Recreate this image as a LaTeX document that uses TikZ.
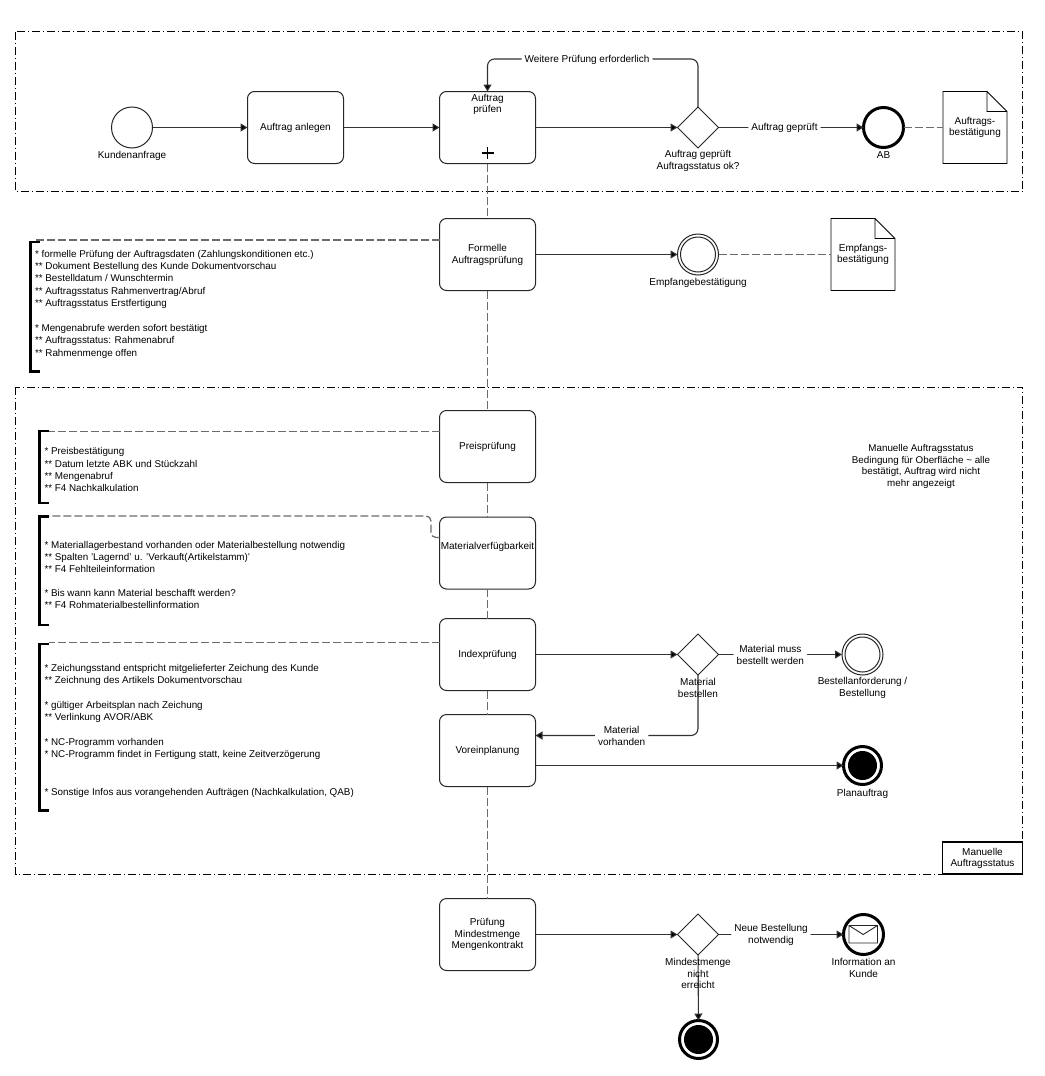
\documentclass[tikz,border=0pt]{standalone}
\usepackage{fontspec}
\setmainfont{Liberation Sans}
\usetikzlibrary{arrows.meta,shapes.geometric}
\tikzset{
  x=1pt,y=-1pt,
  every node/.style={font=\fontsize{10}{11.4}\selectfont,text=black,inner sep=0pt,outer sep=0pt},
  lane/.style={draw=black,line width=.9pt,dash pattern=on 8pt off 3pt on 1pt off 3pt},
  flow/.style={draw=black!80,line width=1.1pt,-{Triangle[length=7pt,width=8pt,fill=black]},rounded corners=7pt},
  assoc/.style={draw=black!58,line width=1.3pt,dash pattern=on 8pt off 3pt,rounded corners=5pt},
  taskbox/.style={draw=black!85,line width=1pt,rounded corners=7pt,minimum width=96pt,minimum height=72pt,fill=white,align=center},
  docbox/.style={minimum width=64pt,minimum height=72pt,align=center},
  docline/.style={draw=black,line width=.9pt,line join=miter},
  gate/.style={diamond,aspect=1,draw=black!85,line width=.9pt,minimum size=41pt,fill=white},
  evStart/.style={circle,draw=black!85,line width=1pt,minimum size=41pt,fill=white},
  evThick/.style={circle,draw=black,line width=3pt,minimum size=40pt,fill=white},
  lbl/.style={align=center},
  elabel/.style={align=center,fill=white,inner xsep=3pt,inner ysep=1pt},
  notetext/.style={align=left,anchor=north west,font=\fontsize{9.85}{12.4}\selectfont},
  brk/.style={draw=black,line width=2.5pt,line cap=butt,line join=miter},
}
\begin{document}
\begin{tikzpicture}
\useasboundingbox (0,0) rectangle (1044,1076);
% lanes
\draw[lane] (15.5,31.5) rectangle (1022.5,191.5);
\draw[lane] (15.5,387) rectangle (1022.5,874.5);
% tasks
\node[taskbox] (t3) at (487.5,127.5) {};
\node[taskbox] (fa) at (487.5,254.5) {\rule{0pt}{8pt}Formelle\\Auftragsprüfung};
\node[taskbox] (pp) at (487.5,446.5) {Preisprüfung};
\node[taskbox] (mv) at (487.5,553) {};
\node[taskbox] (ip) at (487.5,654.5) {Indexprüfung};
\node[taskbox] (vp) at (487.5,750.5) {Voreinplanung};
\node[taskbox] (pm) at (487.5,934.5) {Prüfung\\Mindestmenge\\Mengenkontrakt};
% vertical associations
\draw[assoc] (t3.south) -- (fa.north);
\draw[assoc] (fa.south) -- (pp.north);
\draw[assoc] (pp.south) -- (mv.north);
\draw[assoc] (mv.south) -- (ip.north);
\draw[assoc] (ip.south) -- (vp.north);
\draw[assoc] (vp.south) -- (pm.north);
\node[taskbox] (t2) at (295.5,127.5) {Auftrag anlegen};
\node[lbl] (t3a) at (487.5,104.5) {Auftrag\\prüfen};
\node[lbl] (mva) at (487.5,547) {Materialverfügbarkeit};
\draw[black,line width=1.1pt] (481.5,153) -- (493.5,153) (487.5,147) -- (487.5,159);
% events
\node[evStart] (s1) at (132,127.5) {};
\node[lbl] (s1l) at (132,155.5) {Kundenanfrage};
\node[gate] (g1) at (698,127.5) {};
\node[lbl] (g1l) at (698,161) {Auftrag geprüft\\Auftragsstatus ok?};
\node[evThick] (ab) at (883.5,127.5) {};
\node[lbl] (abl) at (883.5,155.5) {AB};
\node[docbox] (d1) at (975,127.5) {Auftrags-\\bestätigung};
\draw[docline] (d1.north west) -- ([xshift=-20pt]d1.north east) -- ([yshift=-20pt]d1.north east) -- (d1.south east) -- (d1.south west) -- cycle
 ([xshift=-20pt]d1.north east) -- ([xshift=-20pt,yshift=-20pt]d1.north east) -- ([yshift=-20pt]d1.north east);
\node[evStart] (e1) at (698,254.5) {};
\draw[black!85,line width=1pt] (e1.center) circle (17.5);
\node[lbl] (e1l) at (698,282.5) {Empfangebestätigung};
\node[docbox] (d2) at (863,254.5) {Empfangs-\\bestätigung};
\draw[docline] (d2.north west) -- ([xshift=-20pt]d2.north east) -- ([yshift=-20pt]d2.north east) -- (d2.south east) -- (d2.south west) -- cycle
 ([xshift=-20pt]d2.north east) -- ([xshift=-20pt,yshift=-20pt]d2.north east) -- ([yshift=-20pt]d2.north east);
\node[gate] (g2) at (698,654.5) {};
\node[evStart] (e2) at (862.5,654.5) {};
\draw[black!85,line width=1pt] (e2.center) circle (17.5);
\node[lbl] (e2l) at (862.5,688) {Bestellanforderung /\\Bestellung};
\node[evThick,minimum size=38pt] (e3) at (862.5,765.5) {};
\fill[black] (e3.center) circle (14.5);
\node[lbl] (e3l) at (862.5,794) {Planauftrag};
\node[gate] (g3) at (698,934.5) {};
\node[evThick] (e4) at (863.5,934.5) {};
\draw[black!85,line width=.9pt,line join=miter] (849,925.5) rectangle (877.5,943) (849,925.5) -- (863.2,934.5) -- (877.5,925.5);
\node[lbl] (e4l) at (863.5,968) {Information an\\Kunde};
\node[evThick,minimum size=38pt] (e5) at (698.5,1039.5) {};
\fill[black] (e5.center) circle (14.5);
% flows
\draw[flow] (s1) -- (t2);
\draw[flow] (t2) -- (t3);
\draw[flow] (t3) -- (g1);
\draw[flow] (g1) -- node[elabel,pos=.455] (l1) {Auftrag geprüft} (ab);
\coordinate (top) at (698,59);
\draw[flow] (g1.north) -- (top) -- node[elabel,pos=.527,yshift=-.6pt] (l2) {Weitere Prüfung erforderlich} (t3.north |- top) -- (t3.north);
\draw[flow] (fa.east |- e1) -- (e1);
\draw[flow] (ip) -- (g2);
\draw[flow] (g2) -- node[elabel,pos=.42,yshift=-.6pt] (l3) {Material muss\\bestellt werden} (e2);
\coordinate (c4) at (698,735.5);
\draw[flow] (g2.south) -- (c4) -- node[elabel,pos=.47,yshift=-.4pt] (l4) {Material\\vorhanden} (vp.east |- c4);
\node[lbl] (g2l) at (698,688) {Material\\bestellen};
\draw[flow] (vp.east |- e3) -- (e3);
\draw[flow] (pm.east |- g3) -- (g3);
\draw[flow] (g3) -- node[elabel,pos=.42,yshift=-.6pt] (l5) {Neue Bestellung\\notwendig} (e4);
\draw[flow] (g3) -- (e5);
\node[lbl] (g3l) at (698,973.5) {Mindestmenge\\nicht\\erreicht};
% associations to documents
\draw[assoc] (ab) -- (d1.west |- ab);
\draw[assoc] (e1) -- (d2.west |- e1);
% notes with brackets
\coordinate (b1) at (36,240);
\coordinate (b2) at (49,431.5);
\coordinate (b3) at (49,516);
\coordinate (b4) at (49,642.5);
\draw[brk] (39.5,242) -- (30.5,242) -- (30.5,371.5) -- (40,371.5);
\draw[brk] (49,431) -- (39.5,431) -- (39.5,503) -- (49,503);
\draw[brk] (49,516.5) -- (39.5,516.5) -- (39.5,625) -- (49,625);
\draw[brk] (49,644) -- (39.5,644) -- (39.5,810.5) -- (49,810.5);
\draw[assoc] (fa.west |- b1) -- (b1);
\draw[assoc] (pp.west |- b2) -- (b2);
\coordinate (m1) at (431,537.5);
\coordinate (m2) at (431,516);
\draw[assoc] (mv.west |- m1) -- (m1) -- (m2) -- (b3);
\draw[assoc] (ip.west |- b4) -- (b4);
\node[notetext] (n1) at (35,250) {* formelle Prüfung der Auftragsdaten (Zahlungskonditionen etc.)\\
** Dokument Bestellung des Kunde Dokumentvorschau\\
** Bestelldatum / Wunschtermin\\
** Auftragsstatus Rahmenvertrag/Abruf\\
** Auftragsstatus Erstfertigung\\[12.4pt]
* Mengenabrufe werden sofort bestätigt\\
** Auftragsstatus: Rahmenabruf\\
** Rahmenmenge offen};
\node[notetext] (n2) at (44.5,447.5) {* Preisbestätigung\\
** Datum letzte ABK und Stückzahl\\
** Mengenabruf\\
** F4 Nachkalkulation};
\node[notetext] (n3) at (44.5,541) {* Materiallagerbestand vorhanden oder Materialbestellung notwendig\\
** Spalten 'Lagernd' u. 'Verkauft(Artikelstamm)'\\
** F4 Fehlteileinformation\\[11pt]
* Bis wann kann Material beschafft werden?\\
** F4 Rohmaterialbestellinformation};
\node[notetext] (n4) at (44.5,664) {* Zeichungsstand entspricht mitgelieferter Zeichung des Kunde\\
** Zeichnung des Artikels Dokumentvorschau\\[12.4pt]
* gültiger Arbeitsplan nach Zeichung\\
** Verlinkung AVOR/ABK\\[12.4pt]
* NC-Programm vorhanden\\
* NC-Programm findet in Fertigung statt, keine Zeitverzögerung\\[24.8pt]
* Sonstige Infos aus vorangehenden Aufträgen (Nachkalkulation, QAB)};
\node[lbl,font=\fontsize{9.8}{11.4}\selectfont] (n5) at (921,466.5) {Manuelle Auftragsstatus\\Bedingung für Oberfläche \textasciitilde{} alle\\bestätigt, Auftrag wird nicht\\mehr angezeigt};
\node[draw=black,line width=1.5pt,minimum width=80pt,minimum height=32pt,align=center,fill=white] (box) at (982.5,858.2) {Manuelle\\Auftragsstatus};
\end{tikzpicture}
\end{document}
